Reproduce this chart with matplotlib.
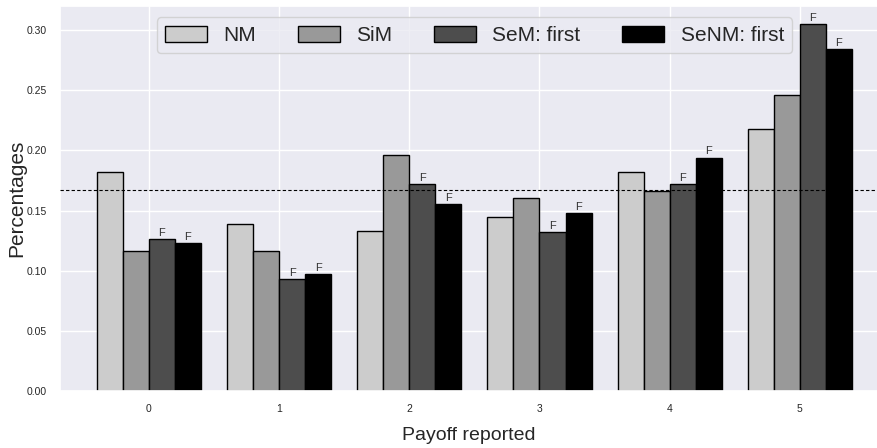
import numpy as np
import matplotlib
matplotlib.use("Agg")
import matplotlib.pyplot as plt
import seaborn as sns

sns.set_theme(style="darkgrid")
plt.rcParams['font.family'] = ['Liberation Sans', 'DejaVu Sans']

payoffs = [0, 1, 2, 3, 4, 5]
series_names = ["NM", "SiM", "SeM: first", "SeNM: first"]
nm = [0.182, 0.139, 0.133, 0.145, 0.182, 0.218]
sim = [0.116, 0.116, 0.196, 0.160, 0.166, 0.246]
sem_first = [0.126, 0.093, 0.172, 0.132, 0.172, 0.305]
senm_first = [0.123, 0.097, 0.155, 0.148, 0.194, 0.284]
flagged = [False, False, True, True]
uniform_share = 1 / 6

colors = ["#cccccc", "#999999", "#4d4d4d", "#000000"]

fig = plt.figure(figsize=(8.78, 4.48), dpi=100)
ax = fig.add_axes([0.068, 0.127, 0.932, 0.86])

x = np.arange(len(payoffs))
width = 0.2
offsets = [-1.5, -0.5, 0.5, 1.5]
for vals, name, col, off, flag in zip([nm, sim, sem_first, senm_first], series_names,
                                      colors, offsets, flagged):
    bars = ax.bar(x + off * width, vals, width, color=col, edgecolor="black",
                  linewidth=1.0, label=name, zorder=2)
    if flag:
        for b in bars:
            ax.text(b.get_x() + b.get_width() / 2, b.get_height() + 0.001, "F",
                    ha="center", va="bottom", fontsize=8, color="#333333")

ax.axhline(uniform_share, color="black", linestyle="--", linewidth=0.8,
           dashes=(3, 2), zorder=3)

ax.set_xticks(x)
ax.set_xticklabels([str(p) for p in payoffs])
ax.set_xlim(-0.685, 5.6)
ax.set_ylim(0, 0.32)
ax.set_yticks(np.arange(0, 0.31, 0.05))
ax.set_yticklabels([f"{v:.2f}" for v in np.arange(0, 0.31, 0.05)])
ax.tick_params(axis="both", labelsize=7.5)
ax.set_ylabel("Percentages", fontsize=15, labelpad=0)
ax.set_xlabel("Payoff reported", fontsize=14, labelpad=9)

ax.legend(loc="upper center", ncol=4, fontsize=15, bbox_to_anchor=(0.507, 0.997),
          frameon=True, columnspacing=2.0, handleheight=0.8,
          borderpad=0.4)

fig.savefig("out.png", dpi=100)
